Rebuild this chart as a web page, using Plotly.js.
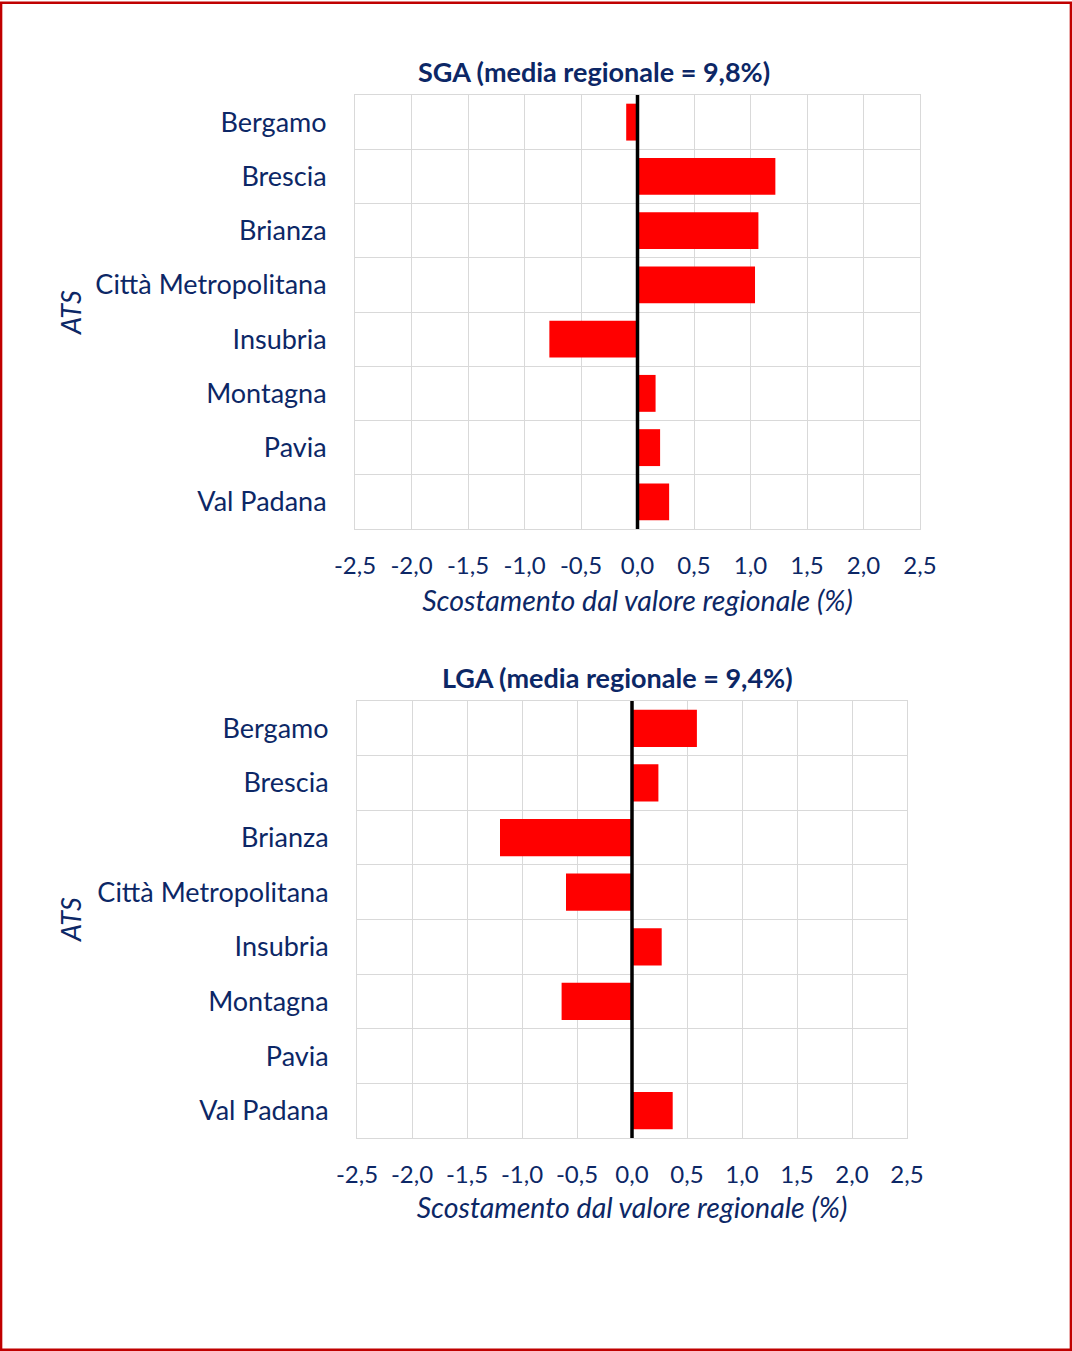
<!DOCTYPE html>
<html>
<head>
<meta charset="utf-8">
<script src="https://cdn.plot.ly/plotly-3.0.1.min.js"></script>
<style>
html,body{margin:0;padding:0;background:#fff;}
#chart{width:1072px;height:1351px;}
</style>
</head>
<body>
<div id="chart"></div>
<script>
// ---- data ----
const categories = ["Bergamo","Brescia","Brianza","Città Metropolitana","Insubria","Montagna","Pavia","Val Padana"];
const sgaValues = [-0.10, 1.22, 1.07, 1.04, -0.78, 0.16, 0.20, 0.28];
const lgaValues = [0.59, 0.24, -1.20, -0.60, 0.27, -0.64, 0.0, 0.37];
const xTickVals = [-2.5,-2.0,-1.5,-1.0,-0.5,0.0,0.5,1.0,1.5,2.0,2.5];
const xTickText = ["-2,5","-2,0","-1,5","-1,0","-0,5","0,0","0,5","1,0","1,5","2,0","2,5"];
const sgaTitle = "SGA (media regionale = 9,8%)";
const lgaTitle = "LGA (media regionale = 9,4%)";
const xTitle = "Scostamento dal valore regionale (%)";
const yTitle = "ATS";

// ---- style ----
const W = 1072, H = 1351;
const navy = "#0c2766";
const grid = "#d9d9d9";
const FONT = "Lato, 'Open Sans', sans-serif";
const px = v => v / W;
const py = v => (H - v) / H;

const traces = [
  {type:"bar", orientation:"h", x:sgaValues, y:categories, xaxis:"x", yaxis:"y",
   marker:{color:"#ff0000"}, hoverinfo:"skip"},
  {type:"bar", orientation:"h", x:lgaValues, y:categories, xaxis:"x2", yaxis:"y2",
   marker:{color:"#ff0000"}, hoverinfo:"skip"}
];

function xAxis(domain, anchor, standoff){
  return {
    domain: domain, anchor: anchor, range:[-2.5,2.5], fixedrange:true,
    tickmode:"array", tickvals:xTickVals, ticktext:xTickText,
    showgrid:true, gridcolor:grid, gridwidth:1, zeroline:false,
    showline:true, mirror:true, linecolor:grid, linewidth:1,
    ticks:"outside", ticklen:15, tickcolor:"rgba(0,0,0,0)",
    tickfont:{family:FONT, size:24, color:navy},
    title:{text:xTitle, standoff:standoff, font:{family:FONT, size:28.5, color:navy, style:"italic"}}
  };
}
function yAxis(domain, anchor){
  return {
    domain: domain, anchor: anchor, type:"category", autorange:"reversed", fixedrange:true,
    tickson:"boundaries", showgrid:true, gridcolor:grid, gridwidth:1, zeroline:false,
    showline:true, mirror:true, linecolor:grid, linewidth:1,
    ticks:"", ticklabelstandoff:22,
    tickfont:{family:FONT, size:27, color:navy}
  };
}

const layout = {
  width:W, height:H, margin:{l:0,r:0,t:0,b:0},
  paper_bgcolor:"#ffffff", plot_bgcolor:"#ffffff",
  showlegend:false, bargap:0.32,
  font:{family:FONT, color:navy},
  xaxis: xAxis([px(355), px(920)], "y", 13),
  yaxis: yAxis([py(529), py(95)], "x"),
  xaxis2: xAxis([px(357), px(907)], "y2", 11),
  yaxis2: yAxis([py(1138), py(701)], "x2"),
  shapes:[
    {type:"line", xref:"x", yref:"y domain", x0:0, x1:0, y0:0, y1:1, layer:"above",
     line:{color:"#000000", width:3.5}},
    {type:"line", xref:"x2", yref:"y2 domain", x0:0, x1:0, y0:0, y1:1, layer:"above",
     line:{color:"#000000", width:3.5}},
    {type:"rect", xref:"paper", yref:"paper", x0:0.001, x1:0.999, y0:0.001, y1:0.998,
     line:{color:"#c00000", width:2.5}, layer:"above"}
  ],
  annotations:[
    {text:"<b>"+sgaTitle+"</b>", xref:"paper", yref:"paper", x:px(594), y:py(71),
     xanchor:"center", yanchor:"middle", showarrow:false, font:{family:FONT, size:27, color:navy}},
    {text:"<b>"+lgaTitle+"</b>", xref:"paper", yref:"paper", x:px(617), y:py(677),
     xanchor:"center", yanchor:"middle", showarrow:false, font:{family:FONT, size:27, color:navy}},
    {text:yTitle, xref:"paper", yref:"paper", x:px(70), y:py(313), textangle:-90,
     xanchor:"center", yanchor:"middle", showarrow:false, font:{family:FONT, size:27, color:navy, style:"italic"}},
    {text:yTitle, xref:"paper", yref:"paper", x:px(70), y:py(920), textangle:-90,
     xanchor:"center", yanchor:"middle", showarrow:false, font:{family:FONT, size:27, color:navy, style:"italic"}}
  ]
};

Plotly.newPlot("chart", traces, layout, {displayModeBar:false, staticPlot:true});
</script>
</body>
</html>
